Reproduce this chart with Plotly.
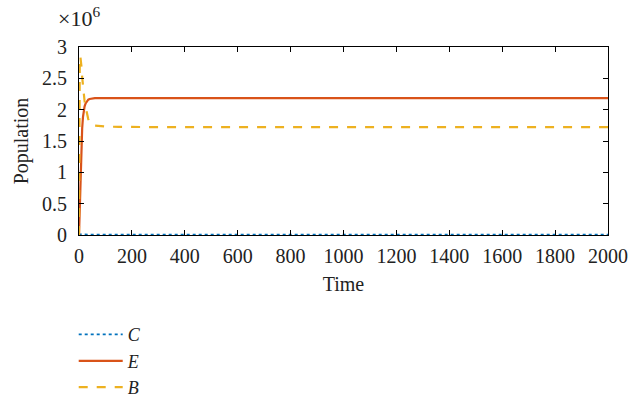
import plotly.graph_objects as go

# Time points (non-uniform, dense near the start)
time = [0, 1, 2, 3, 5, 7, 9, 12, 15, 18, 21, 25, 30, 35, 40, 50, 60, 80, 100, 150, 200, 400, 800, 1200, 1600, 2000]
C = [0, 8000, 12000, 12000, 11000, 10000, 9000, 8000, 7000, 6000, 6000, 5000, 5000, 5000, 5000, 5000, 5000, 5000, 5000, 5000, 5000, 5000, 5000, 5000, 5000, 5000]
E = [0, 150000, 350000, 550000, 900000, 1200000, 1450000, 1700000, 1880000, 1980000, 2050000, 2100000, 2140000, 2160000, 2170000, 2180000, 2185000, 2185000, 2185000, 2185000, 2185000, 2185000, 2185000, 2185000, 2185000, 2185000]
B = [0, 1300000, 2400000, 2800000, 2850000, 2800000, 2700000, 2520000, 2370000, 2240000, 2140000, 2040000, 1930000, 1850000, 1800000, 1760000, 1745000, 1735000, 1730000, 1725000, 1722000, 1720000, 1720000, 1720000, 1720000, 1720000]

x_ticks = [0, 200, 400, 600, 800, 1000, 1200, 1400, 1600, 1800, 2000]
y_ticks = [0, 500000, 1000000, 1500000, 2000000, 2500000, 3000000]
y_tick_labels = ["0", "0.5", "1", "1.5", "2", "2.5", "3"]

FONT = "Liberation Serif"
TXT = "#222"

fig = go.Figure()
fig.add_trace(go.Scatter(x=time, y=C, mode="lines", name="<i>C</i>",
                         line=dict(color="#0072BD", width=1.8, dash="dot")))
fig.add_trace(go.Scatter(x=time, y=E, mode="lines", name="<i>E</i>",
                         line=dict(color="#D95319", width=2.2)))
fig.add_trace(go.Scatter(x=time, y=B, mode="lines", name="<i>B</i>",
                         line=dict(color="#EDB120", width=2.2, dash="dash")))

axis_common = dict(showline=True, linecolor="black", linewidth=1, mirror="ticks",
                   ticks="inside", ticklen=5, tickcolor="black", showgrid=False,
                   zeroline=False, tickfont=dict(family=FONT, size=20, color=TXT))

fig.update_xaxes(range=[0, 2000], tickvals=x_ticks, ticklabelstandoff=3,
                 title=dict(text="Time", font=dict(family=FONT, size=20, color=TXT), standoff=10),
                 **axis_common)
fig.update_yaxes(range=[0, 3000000], tickvals=y_ticks, ticktext=y_tick_labels, ticklabelstandoff=7,
                 title=dict(text="Population", font=dict(family=FONT, size=20, color=TXT), standoff=8),
                 **axis_common)

fig.add_annotation(x=0, y=1, xref="paper", yref="paper", xanchor="center", yanchor="bottom",
                   xshift=0, yshift=14, showarrow=False,
                   text="×10<sup>6</sup>", font=dict(family=FONT, size=22, color=TXT))

fig.update_layout(
    width=644, height=397,
    margin=dict(l=79, r=36, t=47, b=162, autoexpand=False),
    plot_bgcolor="white", paper_bgcolor="white",
    font=dict(family=FONT, size=20, color=TXT),
    legend=dict(x=-0.01, y=-0.432, xanchor="left", yanchor="top",
                font=dict(family=FONT, size=18, color=TXT), itemwidth=44,
                bgcolor="rgba(0,0,0,0)", tracegroupgap=0),
    showlegend=True,
)

fig.write_html("out.html")
